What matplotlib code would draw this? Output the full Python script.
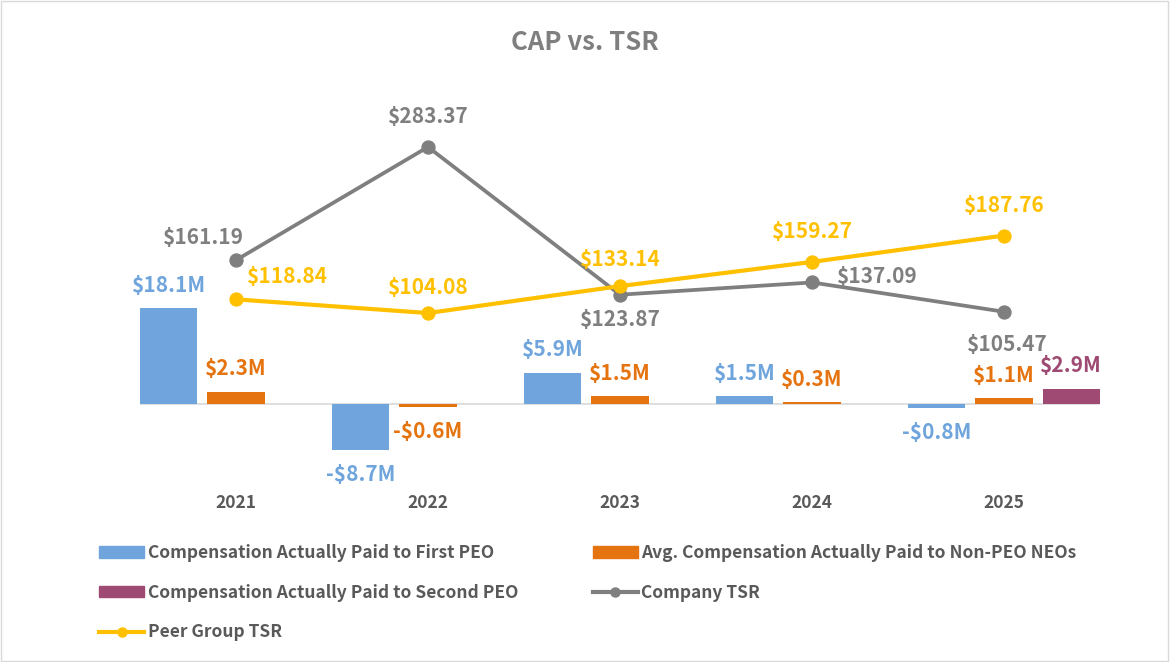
import matplotlib
import matplotlib.pyplot as plt
import numpy as np
from matplotlib.lines import Line2D
from matplotlib.patches import Patch, Rectangle

matplotlib.use('agg')

years = ['2021', '2022', '2023', '2024', '2025']
first_peo = [18.1, -8.7, 5.9, 1.5, -0.8]
non_peo = [2.3, -0.6, 1.5, 0.3, 1.1]
second_peo = [np.nan, np.nan, np.nan, np.nan, 2.9]
company_tsr = [161.19, 283.37, 123.87, 137.09, 105.47]
peer_tsr = [118.84, 104.08, 133.14, 159.27, 187.76]

BLUE = '#6FA5DC'
ORANGE = '#E57410'
PURPLE = '#9E4A72'
GRAY = '#7F7F7F'
YELLOW = '#FFC000'
TEXT = '#595959'

plt.rcParams['font.family'] = ['Noto Sans CJK SC', 'DejaVu Sans']

fig = plt.figure(figsize=(11.7, 6.62), dpi=100)
ax = fig.add_axes([140 / 1170, 1 - 480 / 662, 960 / 1170, 380 / 662])
ax2 = ax.twinx()

x = np.arange(len(years))
width = 0.297
offset = 0.35

series = [(first_peo, -offset, BLUE), (non_peo, 0, ORANGE), (second_peo, offset, PURPLE)]
for values, shift, color in series:
    ax.bar(x + shift, values, width, color=color, zorder=2)
    for xi, v in zip(x, values):
        if np.isnan(v):
            continue
        label = f'${v:.1f}M' if v >= 0 else f'-${abs(v):.1f}M'
        dy = 23 if v >= 0 else -24
        ax.annotate(label, (xi + shift, v), xytext=(0, dy), textcoords='offset pixels',
                    ha='center', va='center', fontsize=15, fontweight='bold', color=color)

ax.axhline(0, color='#D9D9D9', lw=1.2, zorder=1)
ax.set_xlim(-0.5, 4.5)
ax.set_ylim(-14.34, 57.36)

ax2.plot(x, company_tsr, color=GRAY, lw=2.7, marker='o', ms=9.3, zorder=3)
ax2.plot(x, peer_tsr, color=YELLOW, lw=3, marker='o', ms=9.3, zorder=4)
ax2.set_ylim(-76.2, 334.1)

# label offsets in pixels (dx, dy)
gray_offsets = [(-33, 23), (0, 30), (0, -25), (65, 6), (3, -33)]
yellow_offsets = [(51, 23), (0, 26), (0, 27), (0, 30), (0, 30)]
for vals, offs, color in [(company_tsr, gray_offsets, GRAY), (peer_tsr, yellow_offsets, YELLOW)]:
    for xi, v, (dx, dy) in zip(x, vals, offs):
        ax2.annotate(f'${v:.2f}', (xi, v), xytext=(dx, dy), textcoords='offset pixels',
                     ha='center', va='center', fontsize=15, fontweight='bold', color=color)

for a in (ax, ax2):
    for s in a.spines.values():
        s.set_visible(False)
    a.set_yticks([])
ax2.set_xticks([])
ax.set_xticks(x)
ax.set_xticklabels(years, fontsize=12.5, fontweight='bold', color=TEXT)
ax.tick_params(axis='x', length=0, pad=10)

fig.text(0.5, 1 - 42 / 662, 'CAP vs. TSR', ha='center', va='center',
         fontsize=18.5, fontweight='bold', color=GRAY)

handles = [
    Patch(color=BLUE),
    Patch(color=PURPLE),
    Line2D([], [], color=YELLOW, lw=3, marker='o', ms=6.5),
    Patch(color=ORANGE),
    Line2D([], [], color=GRAY, lw=3, marker='o', ms=6.5),
]
labels = [
    'Compensation Actually Paid to First PEO',
    'Compensation Actually Paid to Second PEO',
    'Peer Group TSR',
    'Avg. Compensation Actually Paid to Non-PEO NEOs',
    'Company TSR',
]
leg = fig.legend(handles, labels, ncol=2, loc='upper left',
                 bbox_to_anchor=(99 / 1170, 1 - 544 / 662), frameon=False,
                 borderpad=0, borderaxespad=0, handlelength=2.6, handleheight=0.63,
                 handletextpad=0.2, columnspacing=4.3, labelspacing=1.25,
                 prop={'family': 'Noto Sans CJK SC', 'weight': 'bold', 'size': 12.5})
for t in leg.get_texts():
    t.set_color(TEXT)

fig.patches.append(Rectangle((0.001, 0.001), 0.997, 0.997, transform=fig.transFigure,
                             fill=False, edgecolor='#D9D9D9', lw=1))

fig.savefig('out.png', dpi=100)
